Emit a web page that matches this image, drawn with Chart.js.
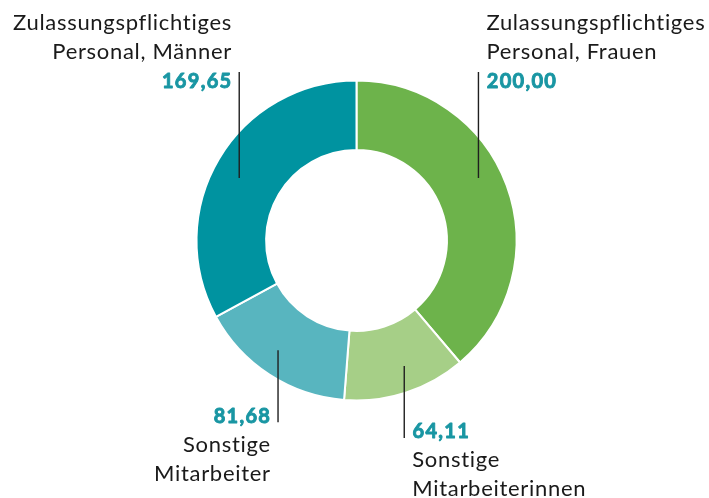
<!DOCTYPE html>
<html>
<head>
<meta charset="utf-8">
<script src="https://cdn.jsdelivr.net/npm/chart.js@4.4.0/dist/chart.umd.min.js"></script>
<style>
  html, body { margin: 0; padding: 0; background: #fff; }
  #wrap { width: 709px; height: 498px; }
</style>
</head>
<body>
<div id="wrap"><canvas id="personalChart"></canvas></div>
<script>
// Werte im Uhrzeigersinn ab 12 Uhr
const kategorien = [
  ["Zulassungspflichtiges", "Personal, Frauen"],
  ["Sonstige", "Mitarbeiterinnen"],
  ["Sonstige", "Mitarbeiter"],
  ["Zulassungspflichtiges", "Personal, Männer"]
];
const werte = [200.00, 64.11, 81.68, 169.65];
const werteText = ["200,00", "64,11", "81,68", "169,65"];
const farben = ["#6db34b", "#a6cf87", "#58b5bf", "#0093a0"];

// Lage der Beschriftungen: Anteil im Bogen, Anteil im Ring, Linienlänge, Richtung, Ausrichtung
const beschriftung = [
  { anteil: 0.45, ring: 0.67, laenge: 106, oben: true,  seite: "left" },
  { anteil: 0.435, ring: 0.63, laenge: 72, oben: false, seite: "left" },
  { anteil: 0.545, ring: 0.64, laenge: 72, oben: false, seite: "right" },
  { anteil: 0.477, ring: 0.61, laenge: 106, oben: true,  seite: "right" }
];

const textSchrift = "Lato, 'Noto Sans', sans-serif";
const zahlFarbe = "#1996a3";

const leaderLabels = {
  id: "leaderLabels",
  afterDatasetsDraw(chart) {
    const ctx = chart.ctx;
    const meta = chart.getDatasetMeta(0);
    meta.data.forEach((arc, i) => {
      const p = arc.getProps(["x", "y", "startAngle", "endAngle", "innerRadius", "outerRadius"], true);
      const b = beschriftung[i];
      const a = p.startAngle + b.anteil * (p.endAngle - p.startAngle);
      const r = p.innerRadius + b.ring * (p.outerRadius - p.innerRadius);
      const x = p.x + r * Math.cos(a);
      const y = p.y + r * Math.sin(a);
      const yEnde = b.oben ? y - b.laenge : y + b.laenge;

      ctx.save();
      ctx.strokeStyle = "#1f1f1f";
      ctx.lineWidth = 1.4;
      ctx.beginPath();
      ctx.moveTo(x, y);
      ctx.lineTo(x, yEnde);
      ctx.stroke();

      const rechts = b.seite === "right";
      ctx.textAlign = rechts ? "right" : "left";
      ctx.textBaseline = "alphabetic";

      let zahlY;
      let zeilenY;
      if (b.oben) {
        zahlY = yEnde + 16;
        zeilenY = [zahlY - 58, zahlY - 29];
      } else {
        zahlY = yEnde + 0.5;
        zeilenY = [zahlY + 29, zahlY + 58];
      }
      // Zahl kräftig: Füllung plus dünne Kontur
      ctx.font = "bold 20px " + textSchrift;
      ctx.letterSpacing = "1.3px";
      ctx.fillStyle = zahlFarbe;
      ctx.strokeStyle = zahlFarbe;
      ctx.lineWidth = 0.9;
      ctx.lineJoin = "round";
      const zx = rechts ? x - 6.8 : x + 8.3;
      ctx.fillText(werteText[i], zx, zahlY);
      ctx.strokeText(werteText[i], zx, zahlY);

      ctx.font = "22px " + textSchrift;
      ctx.letterSpacing = "0.7px";
      ctx.fillStyle = "#1a1a1a";
      const tx = rechts ? x - 7.3 : x + 8;
      kategorien[i].forEach((zeile, k) => ctx.fillText(zeile, tx, zeilenY[k]));
      ctx.restore();
    });
  }
};

new Chart(document.getElementById("personalChart"), {
  type: "doughnut",
  data: {
    labels: kategorien.map(k => k.join(" ")),
    datasets: [{
      data: werte,
      backgroundColor: farben,
      borderColor: "#ffffff",
      borderWidth: 2,
      hoverOffset: 0
    }]
  },
  options: {
    responsive: true,
    maintainAspectRatio: false,
    animation: false,
    radius: 160,
    cutout: "56.5%",
    layout: { padding: { left: 84, right: 80, top: 70, bottom: 87 } },
    plugins: {
      legend: { display: false },
      tooltip: { enabled: false }
    }
  },
  plugins: [leaderLabels]
});
</script>
</body>
</html>
